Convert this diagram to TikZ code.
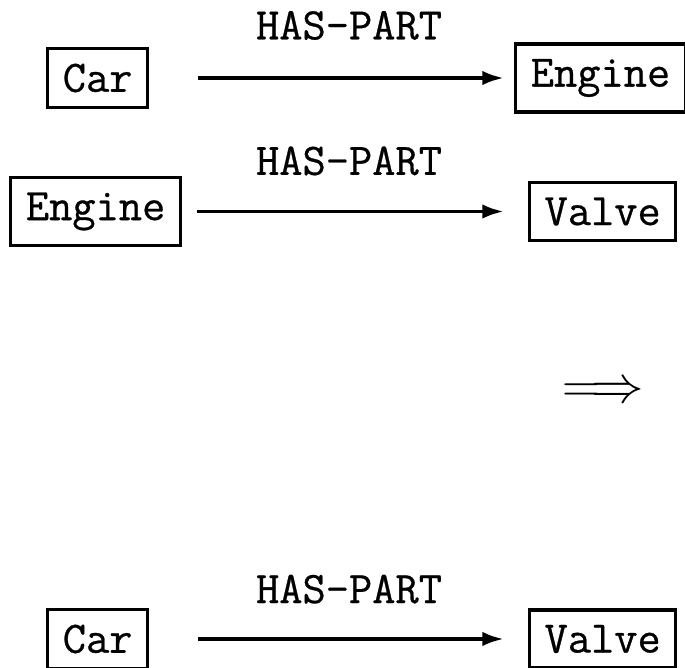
\documentclass[tikz,border=0pt]{standalone}
\usepackage{fontspec}
\newfontfamily\conceptfont[FakeBold=0.6]{Latin Modern Mono}
\usetikzlibrary{arrows.meta}

\begin{document}
\begin{tikzpicture}
[% The concept style is used to draw the boxed names
concept/.style={draw, line width=1.5pt, inner sep=0.25cm, font=\fontsize{21.4}{26}\selectfont\conceptfont},
% The relation style is used to draw the arrows between concepts
relation/.style={-{Latex[length=0.36cm,width=0.24cm]}, line width=1.8pt},
% The tag style is used to write the relation's name
tag/.style={inner sep=0pt, font=\fontsize{21.4}{26}\selectfont\conceptfont}
]
\useasboundingbox (0,0) rectangle (11.417,-11.133);
% First fact
\node[concept, anchor=west] (car1) at (0.77,-1.3) {Car};
\node[concept, anchor=west] (engine1) at (8.57,-1.3) {Engine};
\node[tag] (has1) at (5.817,-0.425) {HAS-PART};
\draw[relation, shorten <=0.82cm, shorten >=0.17cm] (car1) -- (engine1);
% Second fact
\node[concept, anchor=west] (engine2) at (0.155,-3.525) {Engine};
\node[concept, anchor=west] (valve2) at (8.8,-3.525) {Valve};
\node[tag] (has2) at (5.817,-2.683) {HAS-PART};
\draw[relation, shorten <=0.25cm, shorten >=0.4cm] (engine2) -- (valve2);
% Conclusion
\node[inner sep=0pt, font=\fontsize{24.4}{28}\selectfont] (implies) at (10.05,-6.55) {$\Longrightarrow$};
\node[concept, anchor=west] (car3) at (0.77,-10.65) {Car};
\node[concept, anchor=west] (valve3) at (8.8,-10.65) {Valve};
\node[tag] (has3) at (5.817,-9.82) {HAS-PART};
\draw[relation, shorten <=0.82cm, shorten >=0.4cm] (car3) -- (valve3);
\end{tikzpicture}
\end{document}
